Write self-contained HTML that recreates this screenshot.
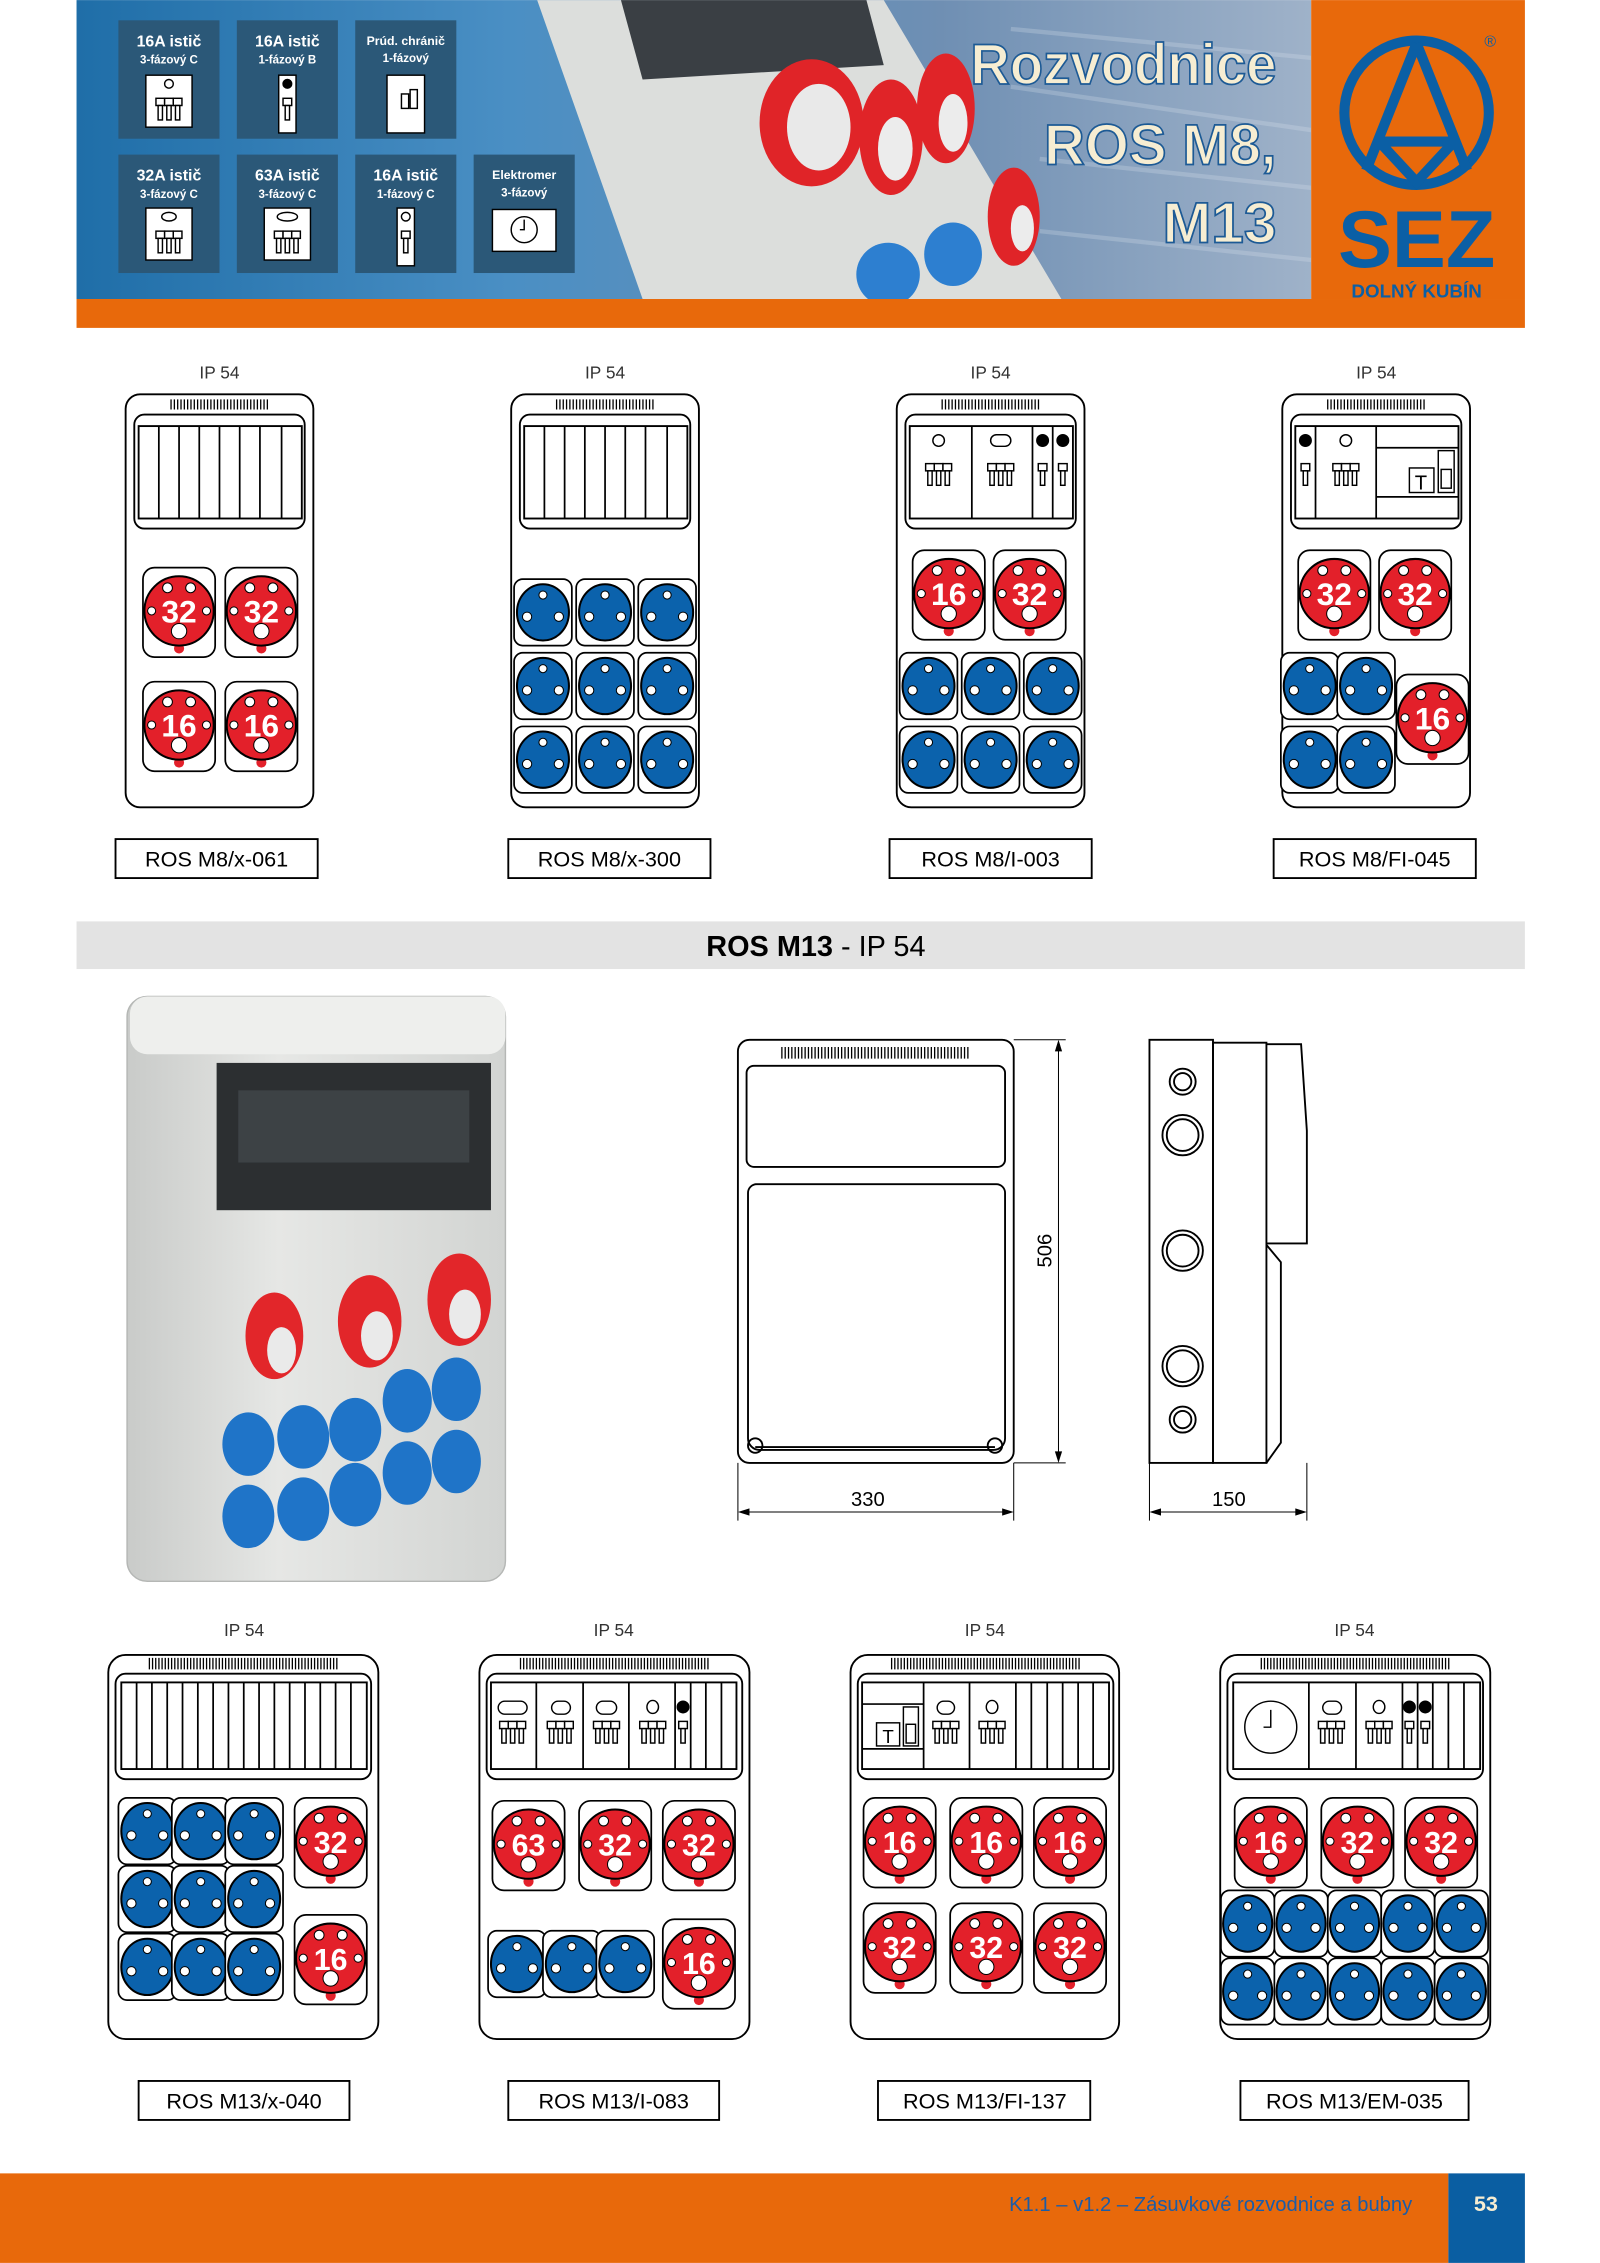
<!DOCTYPE html>
<html><head><meta charset="utf-8"><style>
html,body{margin:0;padding:0;background:#fff;}
svg{display:block;}
text{font-family:"Liberation Sans",sans-serif;}
</style></head><body>
<svg width="1600" height="2263" viewBox="0 0 1108 1567" xmlns="http://www.w3.org/2000/svg">
<defs>
<linearGradient id="hdr" x1="0" x2="1" y1="0" y2="0">
<stop offset="0" stop-color="#1f6ea8"/><stop offset="0.35" stop-color="#4a8fc4"/><stop offset="0.7" stop-color="#6f8fb3"/><stop offset="1" stop-color="#9fb2c9"/></linearGradient>
<linearGradient id="body" x1="0" x2="1"><stop offset="0" stop-color="#c9cbc9"/><stop offset="0.4" stop-color="#e6e7e5"/><stop offset="1" stop-color="#d2d4d2"/></linearGradient>
<g id="R"><rect x="-25" y="-31" width="50" height="62" rx="8" fill="#fff" stroke="#000" stroke-width="1.2"/><circle cx="0" cy="25" r="3.5" fill="#e3202a"/><circle r="24" cy="-1" fill="#e3202a" stroke="#000" stroke-width="1.4"/><g fill="#fff" stroke="#000" stroke-width="0.7"><circle cx="-8" cy="-17" r="3.4"/><circle cx="8" cy="-17" r="3.4"/><circle cx="-19" cy="-1" r="2.8"/><circle cx="19" cy="-1" r="2.8"/><circle cx="0" cy="13" r="5.3"/></g></g>
<g id="B"><rect x="-20" y="-23" width="40" height="46" rx="6" fill="#fff" stroke="#000" stroke-width="1.2"/><ellipse rx="18" ry="19.5" fill="#0b62ac" stroke="#000" stroke-width="1.4"/><g fill="#fff" stroke="#000" stroke-width="0.7"><circle cy="-12" r="2.8"/><circle cx="-11" cy="3" r="3.2"/><circle cx="11" cy="3" r="3.2"/></g></g>
<g id="B2"><rect x="-18.5" y="-23" width="37" height="46" rx="6" fill="#fff" stroke="#000" stroke-width="1.2"/><ellipse rx="17" ry="19.5" fill="#0b62ac" stroke="#000" stroke-width="1.4"/><g fill="#fff" stroke="#000" stroke-width="0.7"><circle cy="-12" r="2.8"/><circle cx="-10" cy="3" r="3.2"/><circle cx="10" cy="3" r="3.2"/></g></g>
<g id="P3" fill="#fff" stroke="#000" stroke-width="1"><rect x="-9" y="-3" width="6" height="5"/><rect x="-3" y="-3" width="6" height="5"/><rect x="3" y="-3" width="6" height="5"/><rect x="-7.5" y="2" width="3" height="10"/><rect x="-1.5" y="2" width="3" height="10"/><rect x="4.5" y="2" width="3" height="10"/></g>
<g id="P1" fill="#fff" stroke="#000" stroke-width="1"><rect x="-3" y="-3" width="6" height="5"/><rect x="-1.5" y="2" width="3" height="10"/></g>
</defs>

<!-- HEADER -->
<rect x="53" y="0" width="855" height="207" fill="url(#hdr)"/>
<g opacity="0.25" stroke="#dfe7f0" stroke-width="3"><line x1="700" y1="20" x2="908" y2="40"/><line x1="700" y1="60" x2="908" y2="90"/><line x1="720" y1="110" x2="908" y2="130"/><line x1="720" y1="160" x2="908" y2="180"/></g>
<polygon points="372,0 612,0 735,207 445,207" fill="#dcdedc"/>
<polygon points="430,0 600,0 612,45 445,55" fill="#3a3f44"/>
<ellipse cx="562" cy="85" rx="36" ry="44" fill="#e02428"/><ellipse cx="567" cy="88" rx="22" ry="30" fill="#e9e9e9"/>
<ellipse cx="617" cy="95" rx="22" ry="40" fill="#e02428"/><ellipse cx="620" cy="103" rx="12" ry="22" fill="#ececec"/>
<ellipse cx="655" cy="75" rx="20" ry="38" fill="#e02428"/><ellipse cx="660" cy="85" rx="10" ry="20" fill="#ececec"/>
<ellipse cx="702" cy="150" rx="18" ry="34" fill="#e02428"/><ellipse cx="708" cy="158" rx="8" ry="16" fill="#ececec"/>
<ellipse cx="615" cy="190" rx="22" ry="22" fill="#2d7fd0"/><ellipse cx="660" cy="176" rx="20" ry="22" fill="#2d7fd0"/>
<g font-weight="bold" fill="#fff" text-anchor="middle">
<rect x="82" y="14" width="70" height="82" fill="#2b5878"/><text x="117" y="32" font-size="11">16A istič</text><text x="117" y="44" font-size="8">3-fázový C</text>
<rect x="164" y="14" width="70" height="82" fill="#2b5878"/><text x="199" y="32" font-size="11">16A istič</text><text x="199" y="44" font-size="8">1-fázový B</text>
<rect x="246" y="14" width="70" height="82" fill="#2b5878"/><text x="281" y="31" font-size="8.5">Prúd. chránič</text><text x="281" y="43" font-size="8">1-fázový</text>
<rect x="82" y="107" width="70" height="82" fill="#2b5878"/><text x="117" y="125" font-size="11">32A istič</text><text x="117" y="137" font-size="8">3-fázový C</text>
<rect x="164" y="107" width="70" height="82" fill="#2b5878"/><text x="199" y="125" font-size="11">63A istič</text><text x="199" y="137" font-size="8">3-fázový C</text>
<rect x="246" y="107" width="70" height="82" fill="#2b5878"/><text x="281" y="125" font-size="11">16A istič</text><text x="281" y="137" font-size="8">1-fázový C</text>
<rect x="328" y="107" width="70" height="82" fill="#2b5878"/><text x="363" y="124" font-size="8.5">Elektromer</text><text x="363" y="136" font-size="8">3-fázový</text>
</g>
<g fill="#fff" stroke="#000" stroke-width="1">
<rect x="101" y="52" width="32" height="36"/><circle cx="117" cy="58" r="3"/><use href="#P3" x="117" y="71"/>
<rect x="193" y="52" width="12" height="40"/><circle cx="199" cy="58" r="3" fill="#000"/><use href="#P1" x="199" y="71"/>
<rect x="268" y="52" width="26" height="40"/><rect x="278" y="65" width="5" height="10"/><rect x="284" y="62" width="5" height="13"/>
<rect x="101" y="144" width="32" height="36"/><ellipse cx="117" cy="150" rx="5" ry="3"/><use href="#P3" x="117" y="163"/>
<rect x="183" y="144" width="32" height="36"/><ellipse cx="199" cy="150" rx="7" ry="3"/><use href="#P3" x="199" y="163"/>
<rect x="275" y="144" width="12" height="40"/><circle cx="281" cy="150" r="3"/><use href="#P1" x="281" y="163"/>
<rect x="341" y="145" width="44" height="29"/><circle cx="363" cy="159" r="9"/><path d="M363 152v7h-3" fill="none"/>
</g>
<g font-size="40" font-weight="bold" fill="#f6edd2" stroke="#1d5a95" stroke-width="1.2" text-anchor="end">
<text x="884" y="58" textLength="212" lengthAdjust="spacingAndGlyphs">Rozvodnice</text><text x="884" y="114" textLength="161" lengthAdjust="spacingAndGlyphs">ROS M8,</text><text x="884" y="168" textLength="79" lengthAdjust="spacingAndGlyphs">M13</text></g>
<rect x="908" y="0" width="148" height="207" fill="#e8690b"/>
<rect x="53" y="207" width="1003" height="20" fill="#e8690b"/>
<g fill="none" stroke="#0b5fa5" stroke-width="7"><circle cx="981" cy="78" r="50"/><path d="M981 30 L946 118 M981 30 L1016 118 M955 98 H1007 M955 98 L981 126 L1007 98"/></g>
<text x="981" y="185" font-size="56" font-weight="bold" fill="#0b5fa5" text-anchor="middle">SEZ</text>
<text x="981" y="206" font-size="13" font-weight="bold" fill="#0b5fa5" text-anchor="middle">DOLNÝ KUBÍN</text>
<text x="1032" y="32" font-size="11" fill="#0b5fa5" text-anchor="middle">®</text>

<!-- ROW 1 -->
<g font-size="12" fill="#333" text-anchor="middle"><text x="152" y="262">IP 54</text><text x="419" y="262">IP 54</text><text x="686" y="262">IP 54</text><text x="953" y="262">IP 54</text></g>
<g fill="#fff" stroke="#000" stroke-width="1.3">
<rect x="87" y="273" width="130" height="286" rx="10"/><rect x="354" y="273" width="130" height="286" rx="10"/><rect x="621" y="273" width="130" height="286" rx="10"/><rect x="888" y="273" width="130" height="286" rx="10"/>
<rect x="93" y="287" width="118" height="79" rx="7"/><rect x="360" y="287" width="118" height="79" rx="7"/><rect x="627" y="287" width="118" height="79" rx="7"/><rect x="894" y="287" width="118" height="79" rx="7"/>
<rect x="96" y="295" width="113" height="64"/><rect x="363" y="295" width="113" height="64"/><rect x="630" y="295" width="113" height="64"/><rect x="897" y="295" width="113" height="64"/>
</g>
<g stroke="#000" stroke-width="7" stroke-dasharray="0.9 1.4"><line x1="118" y1="280" x2="187" y2="280"/><line x1="385" y1="280" x2="454" y2="280"/><line x1="652" y1="280" x2="721" y2="280"/><line x1="919" y1="280" x2="988" y2="280"/></g>
<g stroke="#000" stroke-width="1.2">
<path d="M110 295v64M124 295v64M138 295v64M152 295v64M166 295v64M180 295v64M195 295v64"/>
<path d="M377 295v64M391 295v64M405 295v64M419 295v64M433 295v64M447 295v64M462 295v64"/>
<path d="M673 295v64M715 295v64M729 295v64"/>
<path d="M911 295v64M953 295v64M953 310h57M953 344h57"/>
</g>
<g fill="#fff" stroke="#000" stroke-width="1"><circle cx="650" cy="305" r="4"/><rect x="686" y="301" width="14" height="8" rx="4"/><circle cx="722" cy="305" r="4" fill="#000"/><circle cx="736" cy="305" r="4" fill="#000"/>
<circle cx="904" cy="305" r="4" fill="#000"/><circle cx="932" cy="305" r="4"/>
<rect x="976" y="324" width="17" height="17"/><rect x="996" y="312" width="11" height="29"/><rect x="998" y="325" width="7" height="13"/></g>
<text x="984" y="339" font-size="14" text-anchor="middle">T</text>
<use href="#P3" x="650" y="324"/><use href="#P3" x="693" y="324"/><use href="#P1" x="722" y="324"/><use href="#P1" x="736" y="324"/>
<use href="#P1" x="904" y="324"/><use href="#P3" x="932" y="324"/>
<use href="#R" x="124" y="424"/><use href="#R" x="181" y="424"/><use href="#R" x="124" y="503"/><use href="#R" x="181" y="503"/>
<use href="#B" x="376" y="424"/><use href="#B" x="419" y="424"/><use href="#B" x="462" y="424"/><use href="#B" x="376" y="475"/><use href="#B" x="419" y="475"/><use href="#B" x="462" y="475"/><use href="#B" x="376" y="526"/><use href="#B" x="419" y="526"/><use href="#B" x="462" y="526"/>
<use href="#R" x="657" y="412"/><use href="#R" x="713" y="412"/>
<use href="#B" x="643" y="475"/><use href="#B" x="686" y="475"/><use href="#B" x="729" y="475"/><use href="#B" x="643" y="526"/><use href="#B" x="686" y="526"/><use href="#B" x="729" y="526"/>
<use href="#R" x="924" y="412"/><use href="#R" x="980" y="412"/>
<use href="#B" x="907" y="475"/><use href="#B" x="946" y="475"/><use href="#B" x="907" y="526"/><use href="#B" x="946" y="526"/>
<use href="#R" x="992" y="498"/>
<g font-size="22" font-weight="bold" fill="#fff" text-anchor="middle">
<text x="124" y="431">32</text><text x="181" y="431">32</text><text x="124" y="510">16</text><text x="181" y="510">16</text>
<text x="657" y="419">16</text><text x="713" y="419">32</text><text x="924" y="419">32</text><text x="980" y="419">32</text><text x="992" y="505">16</text>
</g>
<g fill="#fff" stroke="#000" stroke-width="1.3"><rect x="80" y="581" width="140" height="27"/><rect x="352" y="581" width="140" height="27"/><rect x="616" y="581" width="140" height="27"/><rect x="882" y="581" width="140" height="27"/></g>
<g font-size="15" fill="#000" text-anchor="middle"><text x="150" y="600">ROS M8/x-061</text><text x="422" y="600">ROS M8/x-300</text><text x="686" y="600">ROS M8/I-003</text><text x="952" y="600">ROS M8/FI-045</text></g>

<!-- M13 BAR -->
<rect x="53" y="638" width="1003" height="33" fill="#e3e3e3"/>
<text x="565" y="662" font-size="20" text-anchor="middle" fill="#000"><tspan font-weight="bold">ROS M13</tspan> - IP 54</text>

<!-- PHOTO -->
<rect x="88" y="690" width="262" height="405" rx="14" fill="url(#body)" stroke="#b5b7b5"/>
<rect x="90" y="690" width="260" height="40" rx="12" fill="#eeefed"/>
<rect x="150" y="736" width="190" height="102" fill="#2c2f31"/>
<rect x="165" y="755" width="160" height="50" fill="#3d4245"/>
<g fill="#e2262a"><ellipse cx="190" cy="925" rx="20" ry="30"/><ellipse cx="256" cy="915" rx="22" ry="32"/><ellipse cx="318" cy="900" rx="22" ry="32"/></g>
<g fill="#eaeaea"><ellipse cx="195" cy="935" rx="10" ry="16"/><ellipse cx="261" cy="925" rx="11" ry="17"/><ellipse cx="322" cy="910" rx="11" ry="17"/></g>
<g fill="#1f74c8"><ellipse cx="172" cy="1000" rx="18" ry="22"/><ellipse cx="210" cy="995" rx="18" ry="22"/><ellipse cx="246" cy="990" rx="18" ry="22"/><ellipse cx="282" cy="970" rx="17" ry="22"/><ellipse cx="316" cy="962" rx="17" ry="22"/>
<ellipse cx="172" cy="1050" rx="18" ry="22"/><ellipse cx="210" cy="1045" rx="18" ry="22"/><ellipse cx="246" cy="1035" rx="18" ry="22"/><ellipse cx="282" cy="1020" rx="17" ry="22"/><ellipse cx="316" cy="1012" rx="17" ry="22"/></g>

<!-- FRONT DRAWING -->
<g fill="none" stroke="#000" stroke-width="1.3">
<rect x="511" y="720" width="191" height="293" rx="8"/>
<rect x="517" y="738" width="179" height="70" rx="5"/>
<path d="M523 820h167a6 6 0 0 1 6 6v170a8 8 0 0 1 -8 8h-162a8 8 0 0 1 -8 -8v-170a6 6 0 0 1 6 -6z"/>
<line x1="523" y1="1002" x2="689" y2="1002"/>
<circle cx="523" cy="1001" r="5"/><circle cx="689" cy="1001" r="5"/>
</g>
<line x1="541" y1="729" x2="671" y2="729" stroke="#000" stroke-width="8" stroke-dasharray="0.9 1.4"/>
<g stroke="#000" stroke-width="0.7" fill="none">
<path d="M702 720h36M702 1013h36M733 722v289M511 1013v40M702 1013v40M513 1047h187M796 1013v40M905 1013v40M798 1047h105"/>
</g>
<g fill="#000"><path d="M733 720l-2.5 8h5z"/><path d="M733 1013l-2.5 -8h5z"/><path d="M511 1047l8 -2.5v5z"/><path d="M702 1047l-8 -2.5v5z"/><path d="M796 1047l8 -2.5v5z"/><path d="M905 1047l-8 -2.5v5z"/></g>
<text x="601" y="1043" font-size="14" text-anchor="middle" fill="#000">330</text>
<text x="851" y="1043" font-size="14" text-anchor="middle" fill="#000">150</text>
<text transform="translate(728 866) rotate(-90)" font-size="14" text-anchor="middle" fill="#000">506</text>
<!-- SIDE -->
<g fill="none" stroke="#000" stroke-width="1.3">
<rect x="796" y="720" width="44" height="293"/>
<rect x="840" y="722" width="37" height="291"/>
<path d="M877 723h24l4 60v78h-28M877 862l10 12v125l-10 14"/>
<circle cx="819" cy="749" r="9"/><circle cx="819" cy="749" r="6"/>
<circle cx="819" cy="786" r="14"/><circle cx="819" cy="786" r="11"/>
<circle cx="819" cy="866" r="14"/><circle cx="819" cy="866" r="11"/>
<circle cx="819" cy="946" r="14"/><circle cx="819" cy="946" r="11"/>
<circle cx="819" cy="983" r="9"/><circle cx="819" cy="983" r="6"/>
</g>

<!-- ROW 2 -->
<g font-size="12" fill="#333" text-anchor="middle"><text x="169" y="1133">IP 54</text><text x="425" y="1133">IP 54</text><text x="682" y="1133">IP 54</text><text x="938" y="1133">IP 54</text></g>
<g fill="#fff" stroke="#000" stroke-width="1.3">
<rect x="75" y="1146" width="187" height="266" rx="12"/><rect x="332" y="1146" width="187" height="266" rx="12"/><rect x="589" y="1146" width="186" height="266" rx="12"/><rect x="845" y="1146" width="187" height="266" rx="12"/>
<rect x="80" y="1159" width="177" height="73" rx="7"/><rect x="337" y="1159" width="177" height="73" rx="7"/><rect x="594" y="1159" width="177" height="73" rx="7"/><rect x="850" y="1159" width="177" height="73" rx="7"/>
<rect x="84" y="1165" width="170" height="60"/><rect x="340" y="1165" width="170" height="60"/><rect x="597" y="1165" width="171" height="60"/><rect x="854" y="1165" width="171" height="60"/>
</g>
<g stroke="#000" stroke-width="8" stroke-dasharray="0.9 1.3"><line x1="103" y1="1152" x2="235" y2="1152"/><line x1="360" y1="1152" x2="491" y2="1152"/><line x1="617" y1="1152" x2="748" y2="1152"/><line x1="873" y1="1152" x2="1005" y2="1152"/></g>
<g stroke="#000" stroke-width="1.2">
<path d="M94.6 1165v60M105.2 1165v60M115.8 1165v60M126.4 1165v60M137 1165v60M147.6 1165v60M158.2 1165v60M168.8 1165v60M179.4 1165v60M190 1165v60M200.6 1165v60M211.2 1165v60M221.8 1165v60M232.4 1165v60M243 1165v60"/>
<path d="M371.4 1165v60M403.8 1165v60M435.5 1165v60M467.5 1165v60M478.3 1165v60M488.8 1165v60M499.6 1165v60"/>
<path d="M639.6 1165v60M671.4 1165v60M703.5 1165v60M714.2 1165v60M725.2 1165v60M735.9 1165v60M746.6 1165v60M757 1165v60M597 1180h42.6M597 1211h42.6"/>
<path d="M906.4 1165v60M939 1165v60M971.2 1165v60M981.7 1165v60M992.2 1165v60M1003 1165v60M1013.8 1165v60"/>
</g>
<g fill="#fff" stroke="#000" stroke-width="1">
<rect x="345" y="1178" width="20" height="9" rx="4.5"/><rect x="382" y="1178" width="13" height="9" rx="4.5"/><rect x="413" y="1178" width="14" height="9" rx="4.5"/><ellipse cx="452" cy="1182" rx="4" ry="4.5"/><circle cx="473" cy="1182" r="4" fill="#000"/>
<rect x="649" y="1178" width="12" height="9" rx="4.5"/><ellipse cx="687" cy="1182" rx="4" ry="4.5"/>
<rect x="607" y="1193" width="16" height="16"/><rect x="625.6" y="1182" width="10.4" height="27"/><rect x="627.5" y="1194" width="6.5" height="13"/>
<rect x="916" y="1178" width="13" height="9" rx="4.5"/><ellipse cx="955" cy="1182" rx="4" ry="4.5"/><circle cx="976" cy="1182" r="4" fill="#000"/><circle cx="987" cy="1182" r="4" fill="#000"/>
<circle cx="880" cy="1196" r="18"/>
</g>
<path d="M880 1184v12h-5" fill="none" stroke="#000" stroke-width="1"/>
<text x="615" y="1207" font-size="13" text-anchor="middle">T</text>
<use href="#P3" x="355" y="1195"/><use href="#P3" x="388" y="1195"/><use href="#P3" x="420" y="1195"/><use href="#P3" x="452" y="1195"/><use href="#P1" x="473" y="1195"/>
<use href="#P3" x="655" y="1195"/><use href="#P3" x="687" y="1195"/>
<use href="#P3" x="922" y="1195"/><use href="#P3" x="955" y="1195"/><use href="#P1" x="976" y="1195"/><use href="#P1" x="987" y="1195"/>
<use href="#B" x="102" y="1268"/><use href="#B" x="139" y="1268"/><use href="#B" x="176" y="1268"/><use href="#B" x="102" y="1315"/><use href="#B" x="139" y="1315"/><use href="#B" x="176" y="1315"/><use href="#B" x="102" y="1362"/><use href="#B" x="139" y="1362"/><use href="#B" x="176" y="1362"/>
<use href="#R" x="229" y="1276"/><use href="#R" x="229" y="1357"/>
<use href="#R" x="366" y="1278"/><use href="#R" x="426" y="1278"/><use href="#R" x="484" y="1278"/>
<use href="#B" x="358" y="1360"/><use href="#B" x="396" y="1360"/><use href="#B" x="433" y="1360"/><use href="#R" x="484" y="1360"/>
<use href="#R" x="623" y="1276"/><use href="#R" x="683" y="1276"/><use href="#R" x="741" y="1276"/>
<use href="#R" x="623" y="1349"/><use href="#R" x="683" y="1349"/><use href="#R" x="741" y="1349"/>
<use href="#R" x="880" y="1276"/><use href="#R" x="940" y="1276"/><use href="#R" x="998" y="1276"/>
<use href="#B2" x="864" y="1332"/><use href="#B2" x="901" y="1332"/><use href="#B2" x="938" y="1332"/><use href="#B2" x="975" y="1332"/><use href="#B2" x="1012" y="1332"/>
<use href="#B2" x="864" y="1379"/><use href="#B2" x="901" y="1379"/><use href="#B2" x="938" y="1379"/><use href="#B2" x="975" y="1379"/><use href="#B2" x="1012" y="1379"/>
<g font-size="21" font-weight="bold" fill="#fff" text-anchor="middle">
<text x="229" y="1283">32</text><text x="229" y="1364">16</text>
<text x="366" y="1285">63</text><text x="426" y="1285">32</text><text x="484" y="1285">32</text><text x="484" y="1367">16</text>
<text x="623" y="1283">16</text><text x="683" y="1283">16</text><text x="741" y="1283">16</text>
<text x="623" y="1356">32</text><text x="683" y="1356">32</text><text x="741" y="1356">32</text>
<text x="880" y="1283">16</text><text x="940" y="1283">32</text><text x="998" y="1283">32</text>
</g>
<g fill="#fff" stroke="#000" stroke-width="1.3"><rect x="96" y="1441" width="146" height="27"/><rect x="352" y="1441" width="146" height="27"/><rect x="608" y="1441" width="147" height="27"/><rect x="859" y="1441" width="158" height="27"/></g>
<g font-size="15" fill="#000" text-anchor="middle"><text x="169" y="1460">ROS M13/x-040</text><text x="425" y="1460">ROS M13/I-083</text><text x="682" y="1460">ROS M13/FI-137</text><text x="938" y="1460">ROS M13/EM-035</text></g>

<!-- FOOTER -->
<rect x="0" y="1505" width="1003" height="62" fill="#e8690b"/>
<rect x="1003" y="1505" width="53" height="62" fill="#0a5ea2"/>
<text x="978" y="1531" font-size="14" fill="#1a5ca8" text-anchor="end">K1.1 – v1.2 – Zásuvkové rozvodnice a bubny</text>
<text x="1029" y="1531" font-size="15" font-weight="bold" fill="#f6edd2" text-anchor="middle">53</text>
</svg>
</body></html>
